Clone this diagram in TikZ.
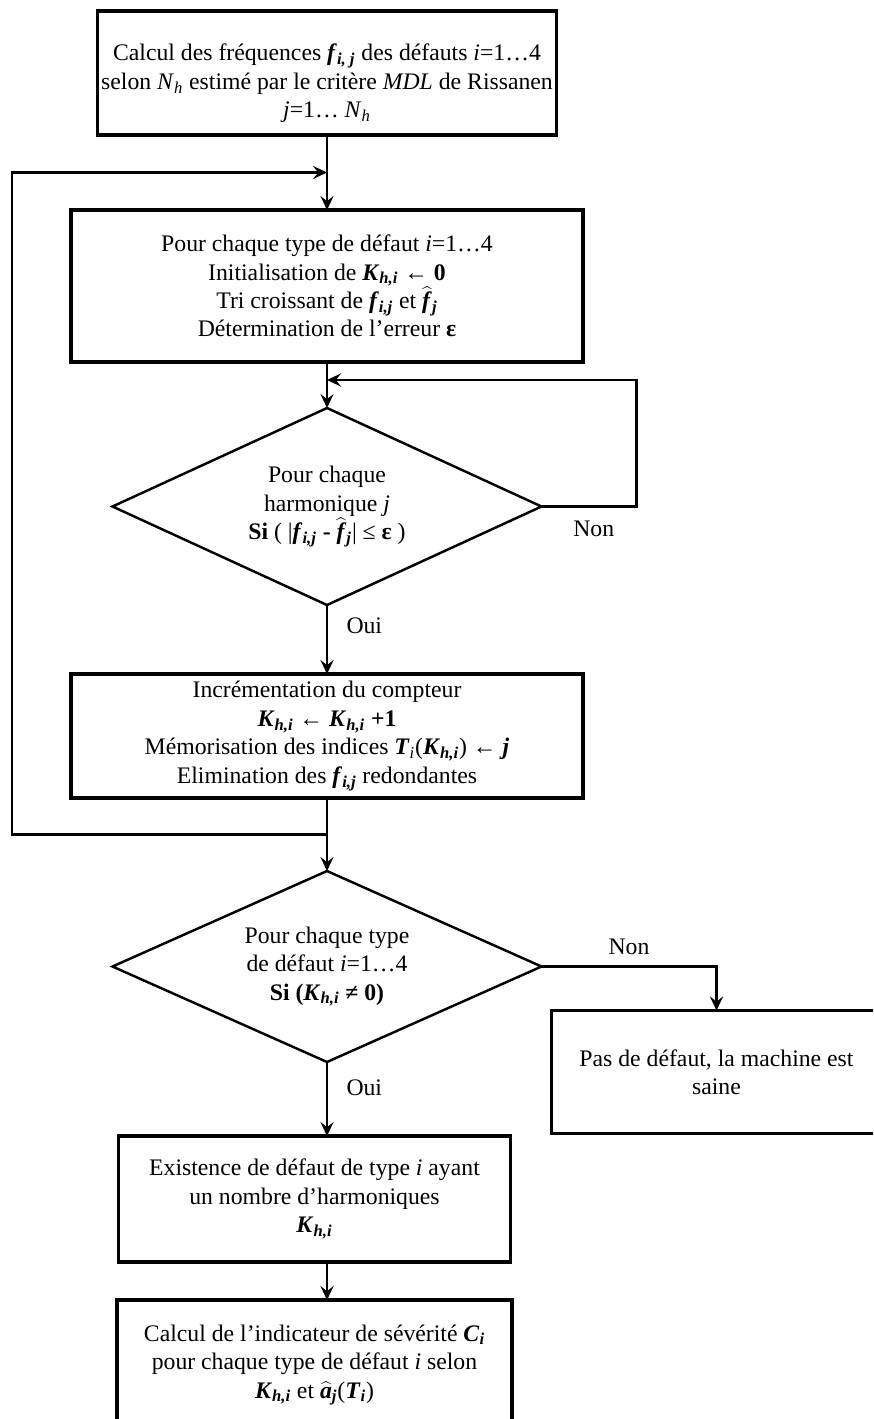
\documentclass[tikz,border=0pt]{standalone}
\usepackage{fontspec}
\setmainfont{Liberation Serif}
\usetikzlibrary{positioning,shapes.geometric,calc,arrows.meta}

\newcommand{\bi}[1]{\textbf{\textit{#1}}}
\newcommand{\hatbi}[1]{$\widehat{\mbox{\bi{#1}}}$}

\begin{document}
\begin{tikzpicture}[
  every node/.style={font=\fontsize{13.5}{16.2}\selectfont},
  box/.style={rectangle, draw, line width=1.9pt, align=center, outer sep=0pt,
              minimum width=10.24cm, minimum height=2.48cm, inner sep=2pt},
  test/.style={diamond, draw, line width=1.4pt, align=center, aspect=2.2, outer sep=0pt,
               minimum width=8.58cm, minimum height=3.94cm, inner sep=0pt},
  arr/.style={-{Stealth[length=8pt,width=7.5pt,inset=3pt]}, line width=1.3pt}
]

\clip (0,0) rectangle (17.46,-28.38);

\node[box, minimum width=9.18cm] (freq) at (6.54,-1.46)
  {\rule{0pt}{0.75cm}Calcul des fréquences \bi{f}\textsubscript{\bi{i, j}} des défauts \textit{i}=1…4\\
   selon \textit{N}\textsubscript{\textit{h}} estimé par le critère \textit{MDL} de Rissanen\\
   \textit{j}=1… \textit{N}\textsubscript{\textit{h}}};
\node[box, below=1.5cm of freq, minimum height=3.04cm] (init)
  {Pour chaque type de défaut \textit{i}=1…4\\
   Initialisation de \bi{K}\textsubscript{\bi{h,i}} ← \textbf{0}\\
   Tri croissant de \bi{f}\textsubscript{\bi{i,j}} et \hatbi{f}\textsubscript{\bi{j}}\\
   Détermination de l’erreur \textbf{ε}};
\node[test, below=0.92cm of init] (harm)
  {Pour chaque\\
   harmonique \textit{j}\\
   \textbf{Si} ( |\bi{f}\textsubscript{\bi{i,j}} \textbf{-} \hatbi{f}\textsubscript{\bi{j}}| ≤ \textbf{ε} )};
\node[box, below=1.38cm of harm] (incr)
  {Incrémentation du compteur\\
   \bi{K}\textsubscript{\bi{h,i}} ← \bi{K}\textsubscript{\bi{h,i}} \textbf{+1}\\
   Mémorisation des indices \bi{T}\textsubscript{\textit{i}}(\bi{K}\textsubscript{\bi{h,i}}) ← \bi{j}\\
   Elimination des \bi{f}\textsubscript{\bi{i,j}} redondantes};
\node[test, below=1.46cm of incr, minimum height=3.82cm] (type)
  {Pour chaque type\\
   de défaut \textit{i}=1…4\\
   \textbf{Si (}\bi{K}\textsubscript{\bi{h,i}} \textbf{≠ 0)}};
\node[box, below right=0.88cm and 0.2cm of type.east,
      minimum width=6.6cm, minimum height=2.46cm] (sain)
  {Pas de défaut, la machine est\\ saine};
\node[box, below=1.48cm of type, xshift=-0.25cm,
      minimum width=7.84cm, minimum height=2.52cm] (exist)
  {Existence de défaut de type \textit{i} ayant\\
   un nombre d’harmoniques\\
   \bi{K}\textsubscript{\bi{h,i}}};
\node[box, below=0.76cm of exist, minimum width=7.9cm, minimum height=2.6cm] (sev)
  {Calcul de l’indicateur de sévérité \bi{C}\textsubscript{\bi{i}}\\
   pour chaque type de défaut \textit{i} selon\\
   \bi{K}\textsubscript{\bi{h,i}} et \hatbi{a}\textsubscript{\bi{j}}(\bi{T}\textsubscript{\bi{i}})};

% junctions where the loops come back
\coordinate (j0) at ($(freq.south)!0.5!(init.north)$);
\coordinate (j1) at ($(harm.north)+(0,0.56)$);
\coordinate (j2) at ($(incr.south)!0.5!(type.north)$);

\draw[arr] (freq) -- (init);
\draw[arr] (init) -- (harm);
\draw[arr] (harm.east) -- node[below=0.15cm, pos=0.55] {Non} ++(1.9,0) |- (j1);
\draw[arr] (harm.south) -- node[right=0.25cm, pos=0.3] {Oui} (harm.south |- incr.north);
\draw[arr] (type.north |- incr.south) -- (type.north);
\draw[arr] (j2) -| ($(init.west)+(-1.18,0)$) |- (j0);
\draw[arr] (type.east) -| node[above=0.1cm, pos=0.25] {Non} (sain.north);
\draw[arr] (type.south) -- node[right=0.25cm, pos=0.35] {Oui} (type.south |- exist.north);
\draw[arr] (type.south |- exist.south) -- (type.south |- sev.north);

\end{tikzpicture}
\end{document}
